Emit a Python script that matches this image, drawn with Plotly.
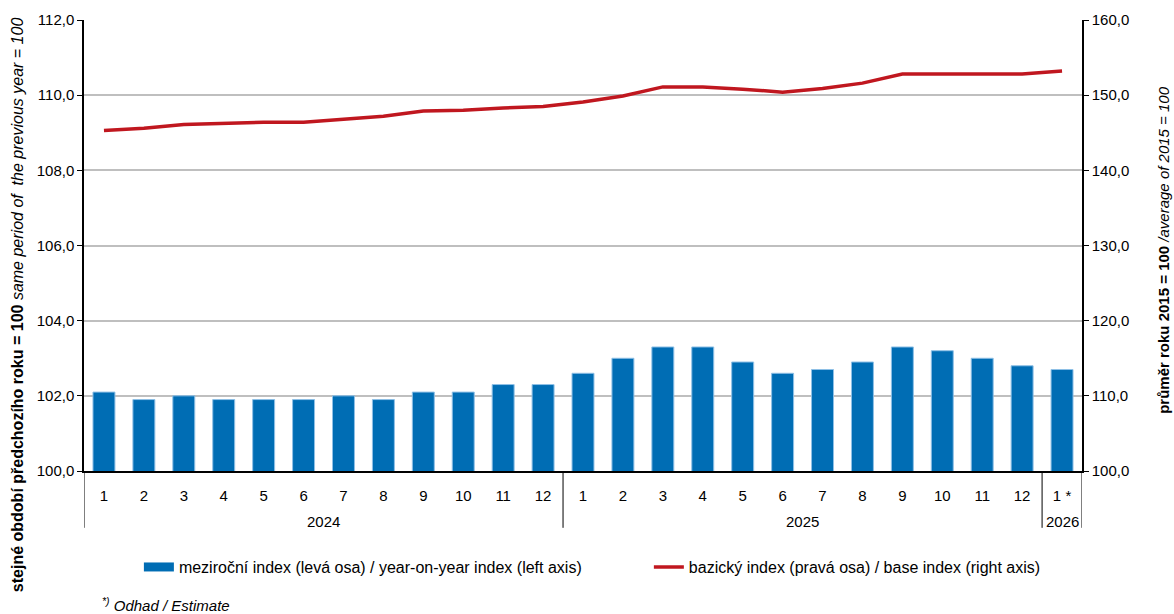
import plotly.graph_objects as go

years = ["2024"] * 12 + ["2025"] * 12 + ["2026"]
months = [str(m) for m in range(1, 13)] + [str(m) for m in range(1, 13)] + ["1 *"]

yoy_index = [102.1, 101.9, 102.0, 101.9, 101.9, 101.9, 102.0, 101.9, 102.1, 102.1, 102.3, 102.3,
             102.6, 103.0, 103.3, 103.3, 102.9, 102.6, 102.7, 102.9, 103.3, 103.2, 103.0, 102.8,
             102.7]
base_index = [145.3, 145.6, 146.1, 146.3, 146.4, 146.4, 146.8, 147.2, 147.9, 148.0, 148.3, 148.5,
              149.1, 149.9, 151.1, 151.1, 150.8, 150.4, 150.9, 151.6, 152.8, 152.8, 152.8, 152.8,
              153.2]

FONT = "Liberation Sans, Arial, sans-serif"
BLUE = "#006DB4"
RED = "#C0171F"

idx = list(range(len(months)))

# year groups: (label, first index, last index)
groups = []
for i, y in enumerate(years):
    if groups and groups[-1][0] == y:
        groups[-1][2] = i
    else:
        groups.append([y, i, i])

fig = go.Figure()
fig.add_trace(go.Bar(
    x=idx, y=yoy_index, showlegend=False,
    marker=dict(color=BLUE, line=dict(color="#8FC0E6", width=1)),
    yaxis="y",
))
fig.add_trace(go.Scatter(
    x=idx, y=base_index, mode="lines", showlegend=False,
    line=dict(color=RED, width=3.5),
    yaxis="y2",
))
# legend entries
fig.add_trace(go.Scatter(
    x=[None], y=[None], mode="lines",
    name="meziroční index (levá osa) / year-on-year index (left axis)",
    line=dict(color=BLUE, width=9), legend="legend",
))
fig.add_trace(go.Scatter(
    x=[None], y=[None], mode="lines",
    name="bazický index (pravá osa) / base index (right axis)",
    line=dict(color=RED, width=3.5), legend="legend2", yaxis="y2",
))

shapes = []
bounds = [groups[0][1] - 0.5] + [g[2] + 0.5 for g in groups]
for b in bounds:
    shapes.append(dict(type="line", xref="x", yref="paper", x0=b, x1=b, y0=0, y1=-0.126,
                       line=dict(color="#000", width=1)))

annotations = [
    dict(text=g[0], xref="x", yref="paper", x=(g[1] + g[2]) / 2, y=-0.111,
         xanchor="center", yanchor="middle", showarrow=False, font=dict(size=15))
    for g in groups
]
annotations += [
    dict(text="<b>stejné období předchozího roku = 100</b> <i>same period of  the previous year = 100</i>",
         textangle=-90, xref="paper", yref="paper", x=-0.067, y=0.368,
         xanchor="center", yanchor="middle", showarrow=False, font=dict(size=16)),
    dict(text="<b>průměr roku 2015 = 100</b> <i>/average of 2015 = 100</i>",
         textangle=-90, xref="paper", yref="paper", x=1.081, y=0.49,
         xanchor="center", yanchor="middle", showarrow=False, font=dict(size=15)),
    dict(text="<i><sup>*)</sup> Odhad / Estimate</i>", xref="paper", yref="paper",
         x=0.016, y=-0.297, xanchor="left", yanchor="middle", showarrow=False,
         font=dict(size=15)),
]

fig.update_layout(
    width=1174, height=614,
    margin=dict(l=84, r=92, t=20, b=143, autoexpand=False),
    paper_bgcolor="white", plot_bgcolor="white",
    separators=", ",
    font=dict(family=FONT, size=15, color="#000"),
    bargap=0.45,
    showlegend=True,
    legend=dict(orientation="h", x=0.055, y=-0.213, xanchor="left", yanchor="middle",
                font=dict(size=16, family=FONT), bgcolor="rgba(0,0,0,0)"),
    legend2=dict(orientation="h", x=0.566, y=-0.213, xanchor="left", yanchor="middle",
                 font=dict(size=16, family=FONT), bgcolor="rgba(0,0,0,0)"),
    xaxis=dict(range=[-0.5, len(months) - 0.5], tickmode="array", tickvals=idx,
               ticktext=months, showline=True, linecolor="#000", linewidth=1.5,
               ticks="", ticklabelstandoff=10, showgrid=False, zeroline=False,
               automargin=False, tickfont=dict(size=15)),
    yaxis=dict(range=[100, 112], dtick=2, tickformat=".1f", showgrid=True,
               gridcolor="#BFBFBF", gridwidth=1.5, zeroline=False, showline=True,
               linecolor="#000", linewidth=1.5, ticks="outside", ticklen=5,
               tickcolor="#000", automargin=False, tickfont=dict(size=15)),
    yaxis2=dict(range=[100, 160], dtick=10, tickformat=".1f", overlaying="y", side="right",
                showgrid=False, zeroline=False, showline=True, linecolor="#000",
                linewidth=1.5, ticks="outside", ticklen=5, tickcolor="#000",
                automargin=False, tickfont=dict(size=15)),
    shapes=shapes,
    annotations=annotations,
)

fig.write_html("out.html")
